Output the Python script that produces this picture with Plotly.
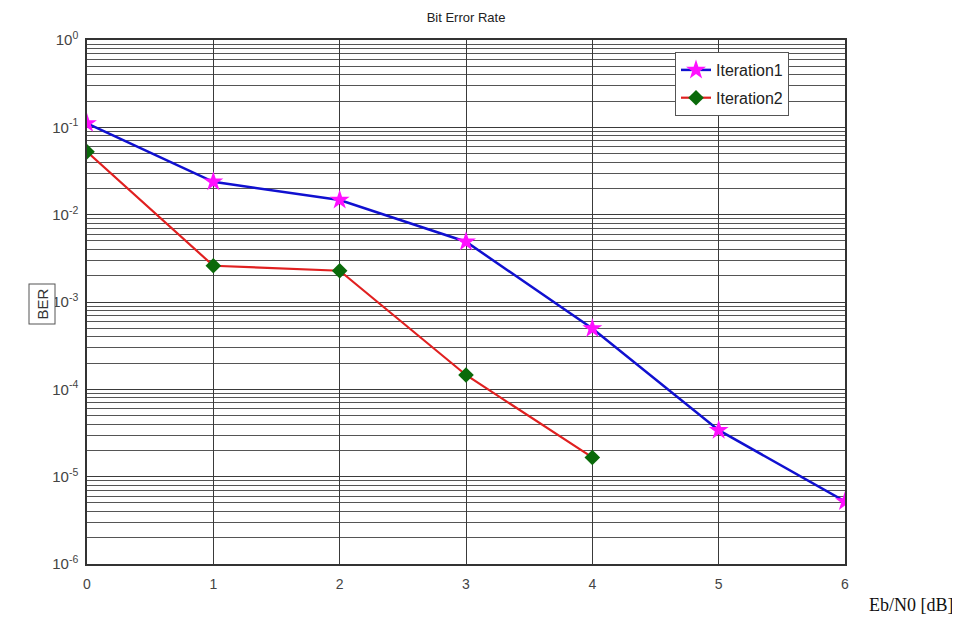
import plotly.graph_objects as go

ebn0 = [0, 1, 2, 3, 4, 5, 6]
ber_iter1 = [0.111, 0.0238, 0.0147, 0.0049, 4.98e-4, 3.41e-5, 5.2e-6]
ebn0_iter2 = [0, 1, 2, 3, 4]
ber_iter2 = [0.0526, 2.6e-3, 2.28e-3, 1.46e-4, 1.66e-5]

y_tickvals = [1, 1e-1, 1e-2, 1e-3, 1e-4, 1e-5, 1e-6]
y_ticktext = ["10<sup>0</sup>", "10<sup>-1</sup>", "10<sup>-2</sup>", "10<sup>-3</sup>",
              "10<sup>-4</sup>", "10<sup>-5</sup>", "10<sup>-6</sup>"]
x_tickvals = [0, 1, 2, 3, 4, 5, 6]

W, H = 952, 609
L, R, T, B = 79, 115, 32, 53
pw = W - L - R
ph = H - T - B

fig = go.Figure()
fig.add_trace(go.Scatter(
    x=ebn0, y=ber_iter1, name="Iteration1", mode="lines+markers", legendgroup="a",
    line=dict(color="#1010d0", width=2.5),
    marker=dict(symbol="star", size=15, color="#ff10ff", line=dict(width=0)),
))
fig.add_trace(go.Scatter(
    x=ebn0_iter2, y=ber_iter2, name="Iteration2", mode="lines+markers", legendgroup="b",
    line=dict(color="#e02020", width=2.2),
    marker=dict(symbol="diamond", size=12, color="#0a6a0a", line=dict(width=0)),
))

grid_col = "#3a3a3a"
fig.update_layout(
    width=W, height=H,
    margin=dict(l=L, r=R, t=T, b=B),
    paper_bgcolor="white", plot_bgcolor="white",
    font=dict(family="Liberation Sans, Arial", color="#333", size=13),
    title=dict(text="Bit Error Rate", x=(L + pw / 2) / W, xanchor="center",
               y=1 - 9 / H, yanchor="middle", font=dict(size=13, color="#222")),
    showlegend=True,
    legend=dict(x=(675 - 87) / 758, y=1 - 12 / ph, xanchor="left", yanchor="top",
                bgcolor="white", bordercolor="#555", borderwidth=1,
                font=dict(size=16, color="#222"), tracegroupgap=4),
    xaxis=dict(
        range=[0, 6], tickvals=x_tickvals, showgrid=True, gridcolor=grid_col, gridwidth=1,
        showline=True, linecolor="#333", linewidth=1.5, mirror=True, ticks="",
        zeroline=False, tickfont=dict(size=14, color="#444"), ticklabelstandoff=6,
    ),
    yaxis=dict(
        type="log", range=[-6, 0], tickvals=y_tickvals, ticktext=y_ticktext,
        showgrid=True, gridcolor=grid_col, gridwidth=1,
        minor=dict(showgrid=True, gridcolor="#555", gridwidth=1, dtick="D1"),
        showline=True, linecolor="#333", linewidth=1.5, mirror=True, ticks="",
        zeroline=False, tickfont=dict(size=15, color="#444"), ticklabelstandoff=4,
    ),
)

fig.add_annotation(
    text="BER", xref="paper", yref="paper", x=-(87 - 28) / pw, y=(564 - 304) / ph,
    textangle=-90, showarrow=False, font=dict(size=15, color="#333"),
    bordercolor="#555", borderwidth=1, borderpad=4, bgcolor="white",
)
fig.add_annotation(
    text="Eb/N0 [dB]", xref="paper", yref="paper", x=(956 - 87) / pw, y=-(605 - 564) / ph,
    xanchor="right", yanchor="middle", showarrow=False,
    font=dict(family="Liberation Serif, Times New Roman", size=18, color="#111"),
)

fig.write_html("out.html")
